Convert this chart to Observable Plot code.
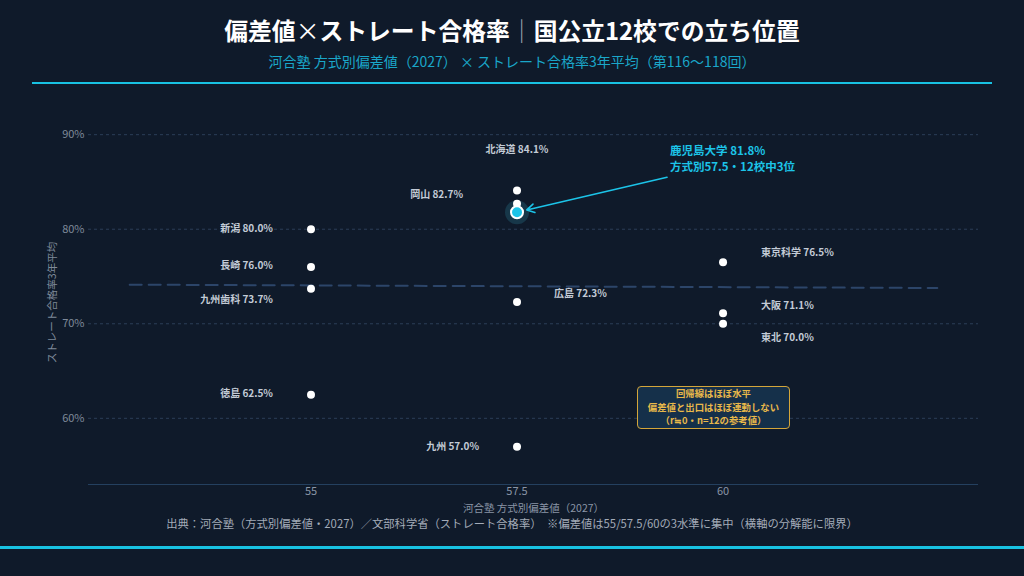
<!DOCTYPE html>
<html><head><meta charset="utf-8">
<script src="https://cdn.jsdelivr.net/npm/d3@7"></script>
<script src="https://cdn.jsdelivr.net/npm/@observablehq/plot@0.6"></script>
<style>
  html,body{margin:0;padding:0;background:#0f1a2a;}
  #wrap{position:relative;width:1024px;height:576px;overflow:hidden;background:#0f1a2a;font-family:"Noto Sans CJK JP","Noto Sans",sans-serif;}
  #title{position:absolute;left:0;width:1024px;top:15px;text-align:center;color:#ffffff;font-size:23.8px;line-height:30px;font-weight:700;}
  #title .x{font-weight:400;}
  #title .sep{color:#9aa4b2;font-weight:400;}
  #subtitle{position:absolute;left:0;width:1024px;top:51px;text-align:center;color:#1aa7c9;font-size:14px;line-height:20px;}
  #topline{position:absolute;left:32px;width:960px;top:82px;height:2px;background:#18c2e2;}
  #chart{position:absolute;left:0;top:100px;}
  #note{position:absolute;left:637px;top:386px;width:151px;height:41px;border:1.5px solid #d4a63a;border-radius:4px;background:#15304a;color:#e8b84a;font-size:9.4px;font-weight:700;line-height:13.6px;text-align:center;padding:0;box-sizing:content-box;white-space:nowrap;}
  #caption{position:absolute;left:0;width:1024px;top:515px;text-align:center;color:#a3abb8;font-size:11.3px;line-height:16px;}
  #bottomline{position:absolute;left:0;width:1024px;top:546px;height:3px;background:#18c2e2;}
</style>
</head><body>
<div id="wrap">
  <div id="title">偏差値<span class="x">×</span>ストレート合格率<span class="sep">｜</span>国公立12校での立ち位置</div>
  <div id="subtitle">河合塾 方式別偏差値（2027） × ストレート合格率3年平均（第116〜118回）</div>
  <div id="topline"></div>
  <div id="chart"></div>
  <div id="note">回帰線はほぼ水平<br>偏差値と出口はほぼ連動しない<br>（r≒0・n=12の参考値）</div>
  <div id="caption">出典：河合塾（方式別偏差値・2027）／文部科学省（ストレート合格率）　※偏差値は55/57.5/60の3水準に集中（横軸の分解能に限界）</div>
  <div id="bottomline"></div>
</div>
<script>
// ---- data ----
const schools  = ["北海道","鹿児島","岡山","広島","九州","新潟","長崎","九州歯科","徳島","東京科学","大阪","東北"];
const hensachi = [57.5, 57.5, 57.5, 57.5, 57.5, 55, 55, 55, 55, 60, 60, 60];
const passRate = [84.1, 81.8, 82.7, 72.3, 57.0, 80.0, 76.0, 73.7, 62.5, 76.5, 71.1, 70.0];
const xTicks = [55, 57.5, 60];
const yTicks = [60, 70, 80, 90];
const highlightName = "鹿児島";
const highlightFull = "鹿児島大学";

// ---- layout (label placement, px) ----
const place = {
  "北海道":  {dx: 0,   dy: -41, anchor: "middle"},
  "岡山":    {dx: -54, dy: -9,  anchor: "end"},
  "広島":    {dx: 37,  dy: -8,  anchor: "start"},
  "九州":    {dx: -38, dy: 0,   anchor: "end"},
  "新潟":    {dx: -38, dy: 0,   anchor: "end"},
  "長崎":    {dx: -38, dy: -1,  anchor: "end"},
  "九州歯科":{dx: -38, dy: 11,  anchor: "end"},
  "徳島":    {dx: -38, dy: -1,  anchor: "end"},
  "東京科学":{dx: 38,  dy: -10, anchor: "start"},
  "大阪":    {dx: 38,  dy: -8,  anchor: "start"},
  "東北":    {dx: 38,  dy: 14,  anchor: "start"}
};

const W = 1024, H = 420, mL = 88, mR = 46, mT = 20, mB = 36;
const xDomain = [52.3, 63.1], yDomain = [53, 91.5];
const pxX = (W - mL - mR) / (xDomain[1] - xDomain[0]);
const pxY = (H - mT - mB) / (yDomain[1] - yDomain[0]);

const data = schools.map((s, i) => ({name: s, x: hensachi[i], y: passRate[i], label: `${s} ${passRate[i].toFixed(1)}%`}));
const hl = data.find(d => d.name === highlightName);
const rank = [...passRate].sort((a, b) => b - a).indexOf(hl.y) + 1;

// regression
const mx = d3.mean(data, d => d.x), my = d3.mean(data, d => d.y);
const slope = d3.sum(data, d => (d.x - mx) * (d.y - my)) / d3.sum(data, d => (d.x - mx) ** 2);
const icpt = my - slope * mx;
const rx = [xDomain[0] + 0.5, xDomain[1] - 0.5];
const reg = rx.map(x => ({x, y: icpt + slope * x}));

const font = "Noto Sans CJK JP";
const labelMarks = data.filter(d => d.name !== highlightName).map(d => {
  const p = place[d.name];
  return Plot.text([d], {x: "x", y: "y", text: "label", dx: p.dx, dy: p.dy, textAnchor: p.anchor,
    fill: "#c3cbd6", fontSize: 10, fontWeight: 700, fontFamily: font});
});

const chart = Plot.plot({
  width: W, height: H,
  marginLeft: mL, marginRight: mR, marginTop: mT, marginBottom: mB,
  style: {background: "transparent", color: "#7f8a9a", fontFamily: font, fontSize: "11px", overflow: "visible"},
  x: {domain: xDomain, label: null},
  y: {domain: yDomain, label: null},
  marks: [
    Plot.gridY(yTicks, {stroke: "#2b3e58", strokeOpacity: 1, strokeDasharray: "3,3"}),
    Plot.ruleY([yDomain[0]], {stroke: "#24405f", strokeWidth: 1}),
    Plot.axisX(xTicks, {tickSize: 0, tickPadding: 3, fill: "#8a95a6", fontSize: 11, tickFormat: d => String(d), label: null}),
    Plot.axisY(yTicks, {tickSize: 0, tickPadding: 4, fill: "#7f8a9a", fontSize: 11, tickFormat: d => d + "%", label: null}),
    Plot.line(reg, {x: "x", y: "y", stroke: "#2c4569", strokeWidth: 2, strokeDasharray: "12,7"}),
    Plot.dot([hl], {x: "x", y: "y", r: 12, fill: "#173749"}),
    Plot.dot(data.filter(d => d.name !== highlightName), {x: "x", y: "y", r: 4, fill: "#ffffff"}),
    Plot.dot([hl], {x: "x", y: "y", r: 6, fill: "#1cc4e8", stroke: "#ffffff", strokeWidth: 2}),
    Plot.arrow([hl], {x1: d => d.x + 150 / pxX, y1: d => d.y + 35 / pxY, x2: "x", y2: "y",
      stroke: "#1cc4e8", strokeWidth: 1.6, headLength: 8, insetEnd: 10}),
    Plot.text([hl], {x: "x", y: "y", text: d => `${highlightFull} ${d.y.toFixed(1)}%\n方式別${d.x}・${data.length}校中${rank}位`,
      dx: 153, dy: -54, textAnchor: "start", lineHeight: 1.35, fill: "#1cc4e8", fontSize: 11.5, fontWeight: 700, fontFamily: font}),
    ...labelMarks,
    Plot.text(["河合塾 方式別偏差値（2027）"], {frameAnchor: "bottom", dy: 27, fill: "#8a95a6", fontSize: 10.5, fontFamily: font}),
    Plot.text(["ストレート合格率3年平均"], {frameAnchor: "left", dx: -36, rotate: -90, textAnchor: "middle", fill: "#7f8a9a", fontSize: 10.5, fontFamily: font})
  ]
});
document.getElementById("chart").appendChild(chart);
</script>
</body></html>
